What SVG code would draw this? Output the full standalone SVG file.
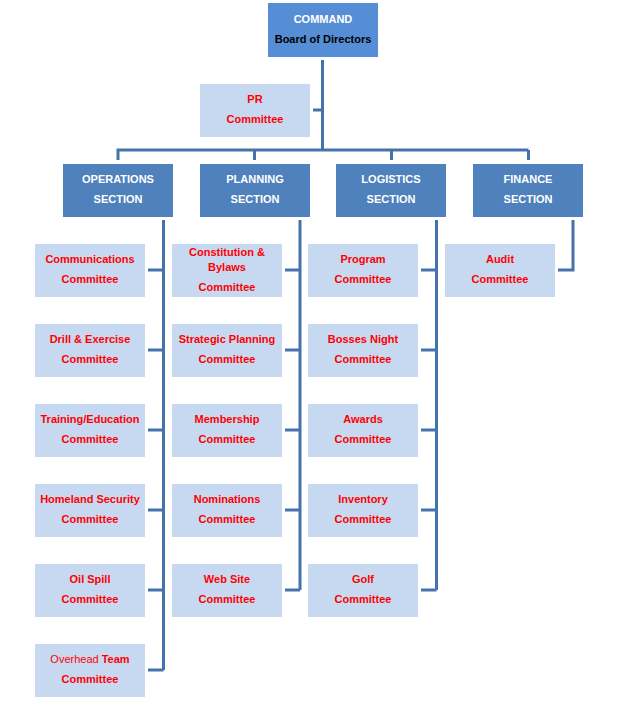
<svg xmlns="http://www.w3.org/2000/svg" width="617" height="701" viewBox="0 0 617 701">
<style>
.sec{fill:#4F81BD}
.cmd{fill:#558ED5}
.com{fill:#C6D9F1}
.t{font-family:"Liberation Sans",Arial,sans-serif;font-size:11px;font-weight:bold;text-anchor:middle}
.w{fill:#FFFFFF}
.k{fill:#000000}
.r{fill:#FF0000}
.n{font-weight:normal}
.ln{fill:none;stroke:#4672AC;stroke-width:3}
</style>
<rect width="617" height="701" fill="#FFFFFF"/>
<g id="connectors">
<path class="ln" d="M322.5,60V150M313,110H322.5M118,150H528.5M118,148.5V160M254.5,150V160M391.5,150V160M528.5,150V160"/>
<path class="ln" d="M163.5,220V670M148,270H163.5M148,350H163.5M148,430H163.5M148,510H163.5M148,590H163.5M148,670H163.5"/>
<path class="ln" d="M300,220V590M285,270H300M285,350H300M285,430H300M285,510H300M285,590H300"/>
<path class="ln" d="M436.5,220V590M421,270H436.5M421,350H436.5M421,430H436.5M421,510H436.5M421,590H436.5"/>
<path class="ln" d="M573,220V270H558"/>
</g>
<g id="command"><rect class="cmd" x="268" y="3" width="110" height="54"/><text class="t w" x="323" y="23">COMMAND</text><text class="t k" x="323" y="43">Board of Directors</text></g>
<g id="pr"><rect class="com" x="200" y="84" width="110" height="53"/><text class="t r" x="255" y="103">PR</text><text class="t r" x="255" y="123">Committee</text></g>
<g id="operations"><rect class="sec" x="63" y="164" width="110" height="53"/><text class="t w" x="118" y="183">OPERATIONS</text><text class="t w" x="118" y="203">SECTION</text></g>
<g id="planning"><rect class="sec" x="200" y="164" width="110" height="53"/><text class="t w" x="255" y="183">PLANNING</text><text class="t w" x="255" y="203">SECTION</text></g>
<g id="logistics"><rect class="sec" x="336" y="164" width="110" height="53"/><text class="t w" x="391" y="183">LOGISTICS</text><text class="t w" x="391" y="203">SECTION</text></g>
<g id="finance"><rect class="sec" x="473" y="164" width="110" height="53"/><text class="t w" x="528" y="183">FINANCE</text><text class="t w" x="528" y="203">SECTION</text></g>
<g id="communications"><rect class="com" x="35" y="244" width="110" height="53"/><text class="t r" x="90" y="263">Communications</text><text class="t r" x="90" y="283">Committee</text></g>
<g id="drill"><rect class="com" x="35" y="324" width="110" height="53"/><text class="t r" x="90" y="343">Drill &amp; Exercise</text><text class="t r" x="90" y="363">Committee</text></g>
<g id="training"><rect class="com" x="35" y="404" width="110" height="53"/><text class="t r" x="90" y="423">Training/Education</text><text class="t r" x="90" y="443">Committee</text></g>
<g id="homeland"><rect class="com" x="35" y="484" width="110" height="53"/><text class="t r" x="90" y="503">Homeland Security</text><text class="t r" x="90" y="523">Committee</text></g>
<g id="oilspill"><rect class="com" x="35" y="564" width="110" height="53"/><text class="t r" x="90" y="583">Oil Spill</text><text class="t r" x="90" y="603">Committee</text></g>
<g id="overhead"><rect class="com" x="35" y="644" width="110" height="53"/><text class="t r" x="90" y="663"><tspan class="n">Overhead</tspan> Team</text><text class="t r" x="90" y="683">Committee</text></g>
<g id="constitution"><rect class="com" x="172" y="244" width="110" height="53"/><text class="t r" x="227" y="256">Constitution &amp;</text><text class="t r" x="227" y="271">Bylaws</text><text class="t r" x="227" y="291">Committee</text></g>
<g id="strategic"><rect class="com" x="172" y="324" width="110" height="53"/><text class="t r" x="227" y="343">Strategic Planning</text><text class="t r" x="227" y="363">Committee</text></g>
<g id="membership"><rect class="com" x="172" y="404" width="110" height="53"/><text class="t r" x="227" y="423">Membership</text><text class="t r" x="227" y="443">Committee</text></g>
<g id="nominations"><rect class="com" x="172" y="484" width="110" height="53"/><text class="t r" x="227" y="503">Nominations</text><text class="t r" x="227" y="523">Committee</text></g>
<g id="website"><rect class="com" x="172" y="564" width="110" height="53"/><text class="t r" x="227" y="583">Web Site</text><text class="t r" x="227" y="603">Committee</text></g>
<g id="program"><rect class="com" x="308" y="244" width="110" height="53"/><text class="t r" x="363" y="263">Program</text><text class="t r" x="363" y="283">Committee</text></g>
<g id="bosses"><rect class="com" x="308" y="324" width="110" height="53"/><text class="t r" x="363" y="343">Bosses Night</text><text class="t r" x="363" y="363">Committee</text></g>
<g id="awards"><rect class="com" x="308" y="404" width="110" height="53"/><text class="t r" x="363" y="423">Awards</text><text class="t r" x="363" y="443">Committee</text></g>
<g id="inventory"><rect class="com" x="308" y="484" width="110" height="53"/><text class="t r" x="363" y="503">Inventory</text><text class="t r" x="363" y="523">Committee</text></g>
<g id="golf"><rect class="com" x="308" y="564" width="110" height="53"/><text class="t r" x="363" y="583">Golf</text><text class="t r" x="363" y="603">Committee</text></g>
<g id="audit"><rect class="com" x="445" y="244" width="110" height="53"/><text class="t r" x="500" y="263">Audit</text><text class="t r" x="500" y="283">Committee</text></g>
</svg>
